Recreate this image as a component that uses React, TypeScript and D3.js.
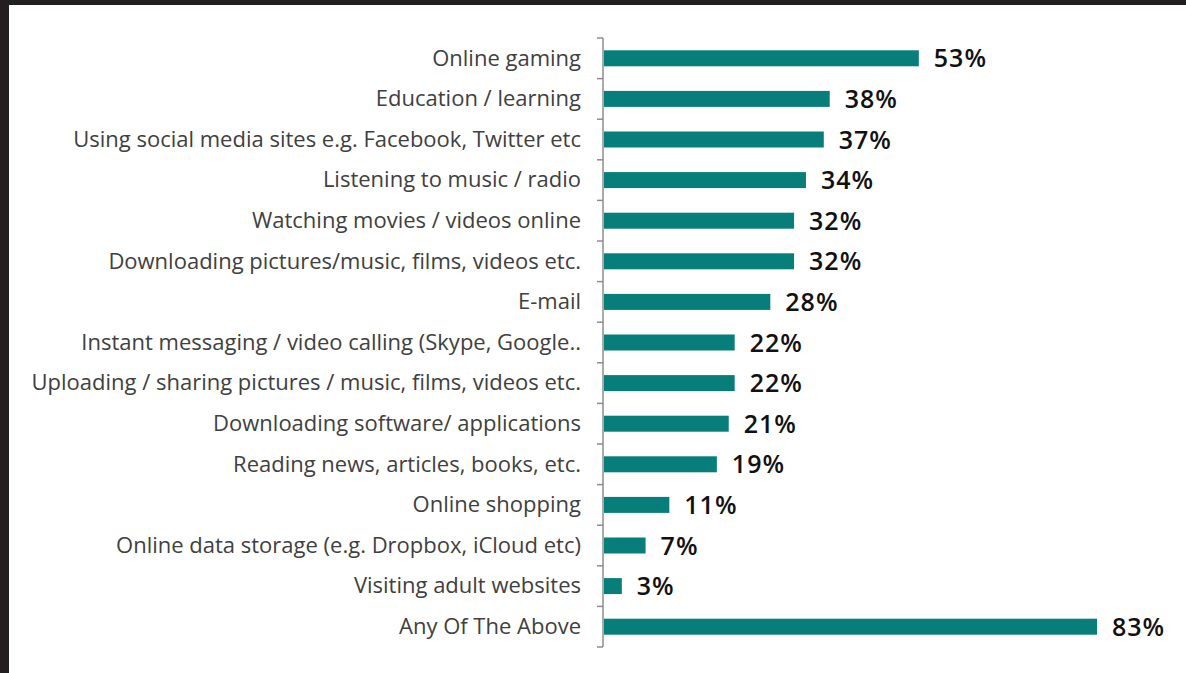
import React from "react";
import * as d3 from "d3";

const categories = [
  "Online gaming",
  "Education / learning",
  "Using social media sites e.g. Facebook, Twitter etc",
  "Listening to music / radio",
  "Watching movies / videos online",
  "Downloading pictures/music, films, videos etc.",
  "E-mail",
  "Instant messaging / video calling (Skype, Google..",
  "Uploading / sharing pictures / music, films, videos etc.",
  "Downloading software/ applications",
  "Reading news, articles, books, etc.",
  "Online shopping",
  "Online data storage (e.g. Dropbox, iCloud etc)",
  "Visiting adult websites",
  "Any Of The Above",
];
const values = [53, 38, 37, 34, 32, 32, 28, 22, 22, 21, 19, 11, 7, 3, 83];

const W = 1186;
const H = 673;
const axisX = 603;
const top = 38;
const bottom = 647;

export default function App() {
  const x = d3.scaleLinear().domain([0, 100]).range([axisX, axisX + 594]);
  const y = d3.scaleBand<string>().domain(categories).range([top, bottom]);
  const step = y.step();
  const ticks = d3.range(categories.length + 1).map((i) => top + i * step);
  return (
    <svg width={W} height={H} style={{ position: "absolute", left: 0, top: 0, background: "#fff" }}>
      <rect x={0} y={0} width={W} height={H} fill="#fff" />
      <rect x={0} y={0} width={W} height={5} fill="#231f20" />
      <rect x={0} y={0} width={9} height={H} fill="#231f20" />
      <line x1={axisX} x2={axisX} y1={top} y2={bottom} stroke="#8c8c8c" strokeWidth={1.5} />
      {ticks.map((t, i) => (
        <line key={i} x1={axisX - 6} x2={axisX} y1={t} y2={t} stroke="#8c8c8c" strokeWidth={1.5} />
      ))}
      {categories.map((c, i) => {
        const cy = y(c)! + step / 2;
        const bh = 16;
        return (
          <g key={c}>
            <rect x={x(0) + 1} y={cy - bh / 2} width={x(values[i]) - x(0)} height={bh} fill="#087e7a" />
            <text x={581} y={cy} dy="0.33em" textAnchor="end" fontFamily="'Open Sans', sans-serif" fontSize={22} fill="#404040">
              {c}
            </text>
            <text x={x(values[i]) + 16} y={cy} dy="0.36em" fontFamily="'Open Sans', sans-serif" fontSize={25} fontWeight={600} letterSpacing={1} fill="#111">
              {values[i]}%
            </text>
          </g>
        );
      })}
    </svg>
  );
}
